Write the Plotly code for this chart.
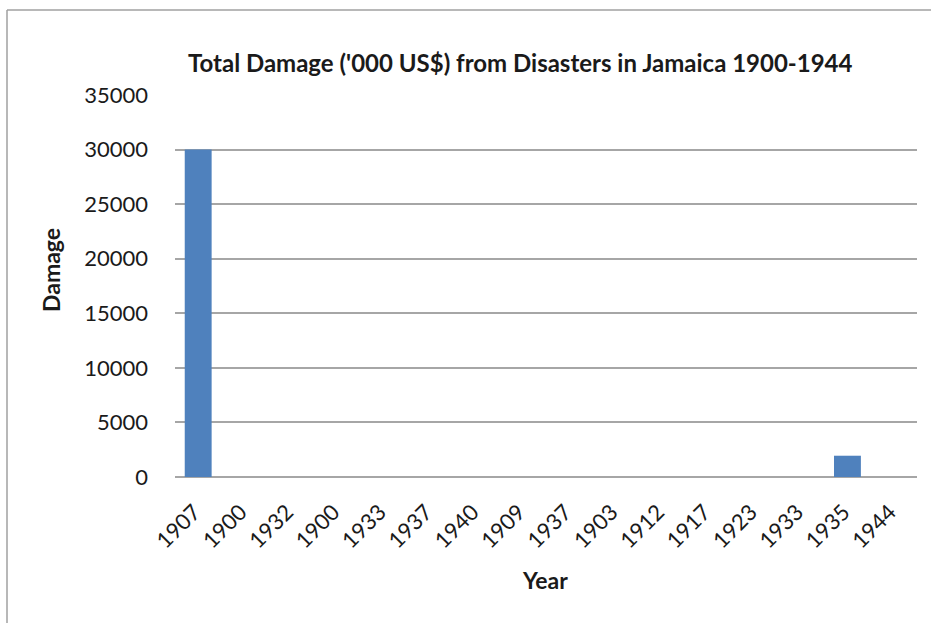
import plotly.graph_objects as go

years = ["1907", "1900", "1932", "1900", "1933", "1937", "1940", "1909",
         "1937", "1903", "1912", "1917", "1923", "1933", "1935", "1944"]
damage = [30000, 0, 0, 0, 0, 0, 0, 0, 0, 0, 0, 0, 0, 0, 1950, 0]
positions = list(range(len(years)))
y_ticks = [0, 5000, 10000, 15000, 20000, 25000, 30000, 35000]

FONT = "Lato, 'Open Sans', sans-serif"
TXT = "#1a1a1a"

fig = go.Figure()
fig.add_trace(go.Bar(
    x=positions, y=damage,
    marker=dict(color="#4F81BD", line=dict(width=0)),
    width=0.58,
))

fig.update_layout(
    width=931, height=623,
    margin=dict(l=175, r=14, t=95, b=146),
    paper_bgcolor="white", plot_bgcolor="white",
    showlegend=False,
    font=dict(family=FONT, size=22, color=TXT),
    xaxis=dict(
        range=[-0.5, len(years) - 0.5],
        tickmode="array", tickvals=positions, ticktext=years,
        tickangle=-45, showgrid=False, zeroline=False, showline=False,
        ticks="", ticklabelstandoff=17, ticklabelshift=-4,
        tickfont=dict(size=22, family=FONT, color=TXT),
    ),
    yaxis=dict(
        range=[0, 35000], tickmode="array", tickvals=y_ticks,
        tickformat="d",
        showgrid=True, gridcolor="#A6A6A6", gridwidth=1.5,
        zeroline=True, zerolinecolor="#A6A6A6", zerolinewidth=1.5,
        showline=False, ticks="", ticklabelstandoff=26,
        tickfont=dict(size=22, family=FONT, color=TXT),
    ),
    annotations=[
        dict(text="<b>Total Damage ('000 US$) from Disasters in Jamaica 1900-1944</b>",
             xref="paper", yref="paper", x=(520 - 175) / 742, y=(477 - 62) / 382,
             xanchor="center", yanchor="middle", showarrow=False,
             font=dict(size=24, family=FONT, color=TXT)),
        dict(text="<b>Damage</b>", textangle=-90,
             xref="paper", yref="paper", x=(51 - 175) / 742, y=(477 - 270) / 382,
             xanchor="center", yanchor="middle", showarrow=False,
             font=dict(size=23, family=FONT, color=TXT)),
        dict(text="<b>Year</b>",
             xref="paper", yref="paper", x=(545 - 175) / 742, y=(477 - 580) / 382,
             xanchor="center", yanchor="middle", showarrow=False,
             font=dict(size=23, family=FONT, color=TXT)),
    ],
    shapes=[
        dict(type="line", xref="paper", yref="paper",
             x0=(7 - 175) / 742, x1=(7 - 175) / 742,
             y0=(477 - 10) / 382, y1=(477 - 640) / 382,
             line=dict(color="#A0A0A0", width=1.5)),
        dict(type="line", xref="paper", yref="paper",
             x0=(7 - 175) / 742, x1=(950 - 175) / 742,
             y0=(477 - 10) / 382, y1=(477 - 10) / 382,
             line=dict(color="#A0A0A0", width=1.5)),
    ],
)

fig.write_html("out.html")
